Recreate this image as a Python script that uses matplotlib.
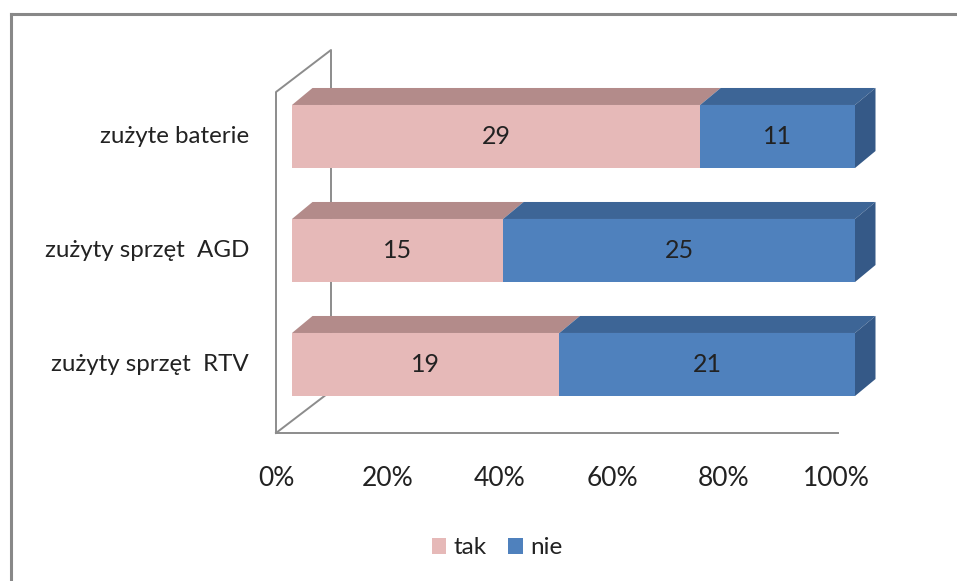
import matplotlib
matplotlib.use("Agg")
import matplotlib.pyplot as plt
from matplotlib.patches import Polygon, Patch
from matplotlib.lines import Line2D

plt.rcParams['font.family'] = ['Lato', 'DejaVu Sans']

categories = ["zużyty sprzęt  RTV", "zużyty sprzęt  AGD", "zużyte baterie"]
tak = [19, 15, 29]
nie = [21, 25, 11]
series_names = ["tak", "nie"]
tick_labels = ["0%", "20%", "40%", "60%", "80%", "100%"]
tick_values = [0, 20, 40, 60, 80, 100]

W, H = 957, 581
DPI = 100
fig = plt.figure(figsize=(W / DPI, H / DPI), dpi=DPI)

# axes = front plane of bars (pixel geometry)
L, R, T, B = 292, 855, 79.5, 421.5
ax = fig.add_axes([L / W, 1 - B / H, (R - L) / W, (B - T) / H])
ax.set_xlim(0, 100)
ax.set_ylim(-0.5, 2.5)
ax.axis('off')

def px(xp, yp):
    """figure pixel (top-left origin) -> data coords"""
    return ax.transData.inverted().transform((xp, H - yp))

# pixel -> data unit scales
sx = 100 / (R - L)
sy = 3 / (B - T)
DX, DY = 20.5, 17
ddx, ddy = DX * sx, DY * sy

pink_front, pink_top = "#E6B9B8", "#B38B8A"
blue_front, blue_top, blue_side = "#4F81BD", "#3D6596", "#355987"
wall = "#8C8C8C"
txt = "#222222"

# walls / floor (decoration)
wall_pts = [
    [(276, 433), (276, 92), (331, 50), (331, 391)],
    [(276, 433), (331, 391)],
    [(276, 433), (838, 433)],
]
for seg in wall_pts:
    d = [px(*p) for p in seg]
    ax.add_line(Line2D([p[0] for p in d], [p[1] for p in d], color=wall,
                       lw=1.4, clip_on=False, zorder=1))

h = 0.553
ys = list(range(len(categories)))
tot = [a + b for a, b in zip(tak, nie)]
tak_pct = [a / t * 100 for a, t in zip(tak, tot)]
nie_pct = [b / t * 100 for b, t in zip(nie, tot)]

b1 = ax.barh(ys, tak_pct, height=h, color=pink_front, zorder=3, label=series_names[0])
b2 = ax.barh(ys, nie_pct, left=tak_pct, height=h, color=blue_front, zorder=3, label=series_names[1])

for y, a, b, va, vb in zip(ys, tak_pct, nie_pct, tak, nie):
    yt = y + h / 2
    yb = y - h / 2
    # top faces
    for x0, x1, c in [(0, a, pink_top), (a, a + b, blue_top)]:
        ax.add_patch(Polygon([(x0, yt), (x1, yt), (x1 + ddx, yt + ddy), (x0 + ddx, yt + ddy)],
                             closed=True, facecolor=c, edgecolor='none', zorder=2, clip_on=False))
    # side face
    xe = a + b
    ax.add_patch(Polygon([(xe, yb), (xe, yt), (xe + ddx, yt + ddy), (xe + ddx, yb + ddy)],
                         closed=True, facecolor=blue_side, edgecolor='none', zorder=2, clip_on=False))
    ax.text(a / 2, y, str(va), ha='center', va='center', fontsize=18, color=txt, zorder=5)
    ax.text(a + b / 2, y, str(vb), ha='center', va='center', fontsize=18, color=txt, zorder=5)
    # category label
    lx, _ = px(249, 0)
    ax.text(lx, y, categories[y], ha='right', va='center', fontsize=17.4, color=txt, clip_on=False)

# tick labels at front floor edge
x_front = px(276, 0)[0]
x_end = px(836, 0)[0]
ty = px(0, 478)[1]
for v, lab in zip(tick_values, tick_labels):
    xx = x_front + (x_end - x_front) * v / 100
    ax.text(xx, ty, lab, ha='center', va='center', fontsize=19, color=txt, clip_on=False)

# legend
fig.legend(handles=[Patch(facecolor=pink_front), Patch(facecolor=blue_front)],
           labels=series_names, loc='center', bbox_to_anchor=(497 / W, 1 - 548 / H),
           ncol=2, frameon=False, fontsize=17.5, handlelength=0.6, handleheight=0.6,
           handletextpad=0.3, columnspacing=0.9, labelcolor=txt)

# outer border (top and left only visible)
fig.add_artist(Line2D([10.5 / W, 10.5 / W], [0, 1 - 13.5 / H], transform=fig.transFigure, color='#888888', lw=2.2))
fig.add_artist(Line2D([10.5 / W, 1], [1 - 13.5 / H, 1 - 13.5 / H], transform=fig.transFigure, color='#888888', lw=2.2))

fig.savefig("out.png", dpi=DPI)
